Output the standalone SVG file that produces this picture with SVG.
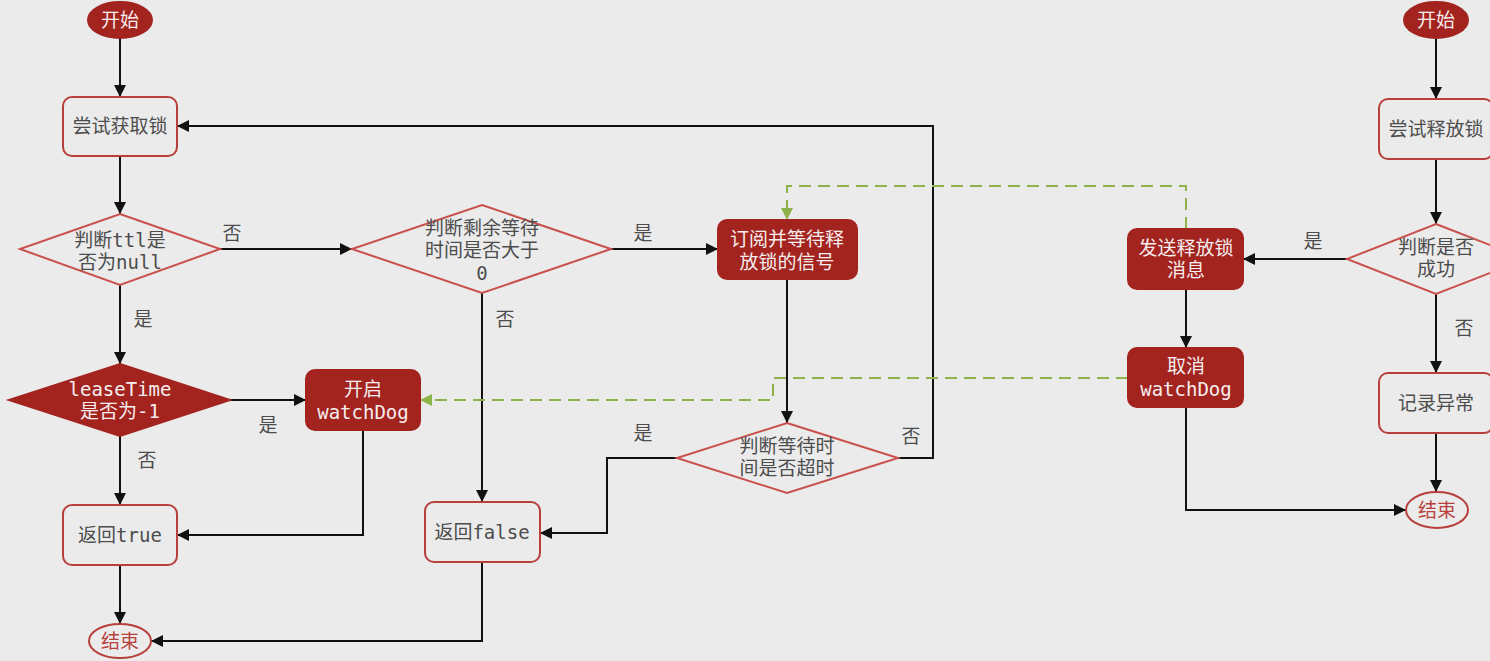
<svg xmlns="http://www.w3.org/2000/svg" width="1490" height="661" viewBox="0 0 1490 661">
<defs>
<style>
.bg{fill:#ebebeb}
.box{fill:#ebebeb;stroke:#b8403c;stroke-width:2}
.fill{fill:#a3231f;stroke:#a3231f;stroke-width:2}
.dia{fill:#ebebeb;stroke:#c9504c;stroke-width:2}
.t{font-family:"DejaVu Sans Mono","Noto Sans CJK SC",monospace;font-size:19px;fill:#4d4d4d;text-anchor:middle}
.w{fill:#f5eeee}
.r{fill:#b8403c}
.e{fill:none;stroke:#111;stroke-width:2}
.g{fill:none;stroke:#8db24a;stroke-width:2;stroke-dasharray:12 7}
</style>
<marker id="a" markerUnits="userSpaceOnUse" markerWidth="12" markerHeight="12" refX="12" refY="6" orient="auto"><path d="M0,0 L12,6 L0,12 z" fill="#111"/></marker>
<marker id="ag" markerUnits="userSpaceOnUse" markerWidth="12" markerHeight="12" refX="12" refY="6" orient="auto"><path d="M0,0 L12,6 L0,12 z" fill="#8db24a"/></marker>
</defs>
<rect class="bg" x="0" y="0" width="1490" height="661"/>

<g id="connectors">
<path class="e" marker-end="url(#a)" d="M120,38 V97"/>
<path class="e" marker-end="url(#a)" d="M120,156 V214"/>
<path class="e" marker-end="url(#a)" d="M220,249 H352"/>
<path class="e" marker-end="url(#a)" d="M611,249 H718"/>
<path class="e" marker-end="url(#a)" d="M787,279 V423"/>
<path class="e" marker-end="url(#a)" d="M898,458 H933 V126 H177"/>
<path class="e" marker-end="url(#a)" d="M677,458 H607 V533 H540"/>
<path class="e" marker-end="url(#a)" d="M482,293 V502"/>
<path class="e" marker-end="url(#a)" d="M482,562 V641 H151"/>
<path class="e" marker-end="url(#a)" d="M120,285 V364"/>
<path class="e" marker-end="url(#a)" d="M230,400 H306"/>
<path class="e" marker-end="url(#a)" d="M363,430 V535 H177"/>
<path class="e" marker-end="url(#a)" d="M120,436 V505"/>
<path class="e" marker-end="url(#a)" d="M120,565 V624"/>
<path class="e" marker-end="url(#a)" d="M1436,38 V99"/>
<path class="e" marker-end="url(#a)" d="M1436,159 V224"/>
<path class="e" marker-end="url(#a)" d="M1347,259 H1243"/>
<path class="e" marker-end="url(#a)" d="M1186,289 V348"/>
<path class="e" marker-end="url(#a)" d="M1186,407 V510 H1406"/>
<path class="e" marker-end="url(#a)" d="M1436,294 V373"/>
<path class="e" marker-end="url(#a)" d="M1436,433 V492"/>
<path class="g" marker-end="url(#ag)" d="M1186,229 V186 H787 V220"/>
<path class="g" marker-end="url(#ag)" d="M1128,378 H773 V400 H420"/>
<text class="t" x="232" y="240">否</text>
<text class="t" x="643" y="240">是</text>
<text class="t" x="505" y="326">否</text>
<text class="t" x="143" y="326">是</text>
<text class="t" x="268" y="432">是</text>
<text class="t" x="147" y="467">否</text>
<text class="t" x="643" y="440">是</text>
<text class="t" x="911" y="443">否</text>
<text class="t" x="1313" y="248">是</text>
<text class="t" x="1464" y="335">否</text>
</g>

<g id="start1"><ellipse class="fill" cx="120" cy="20" rx="32" ry="18"/><text class="t w" x="120" y="27">开始</text></g>
<g id="tryLock"><rect class="box" x="63" y="97" width="114" height="59" rx="9"/><text class="t" x="120" y="133">尝试获取锁</text></g>
<g id="ttlNull"><polygon class="dia" points="120,214 220,249 120,285 20,249"/><text class="t" x="120" y="247">判断ttl是</text><text class="t" x="120" y="269">否为null</text></g>
<g id="leaseTime"><polygon class="fill" points="120,364 230,400 120,436 9,400"/><text class="t w" x="120" y="396">leaseTime</text><text class="t w" x="120" y="418">是否为-1</text></g>
<g id="startWD"><rect class="fill" x="306" y="370" width="114" height="60" rx="9"/><text class="t w" x="363" y="396">开启</text><text class="t w" x="363" y="419">watchDog</text></g>
<g id="retTrue"><rect class="box" x="63" y="505" width="114" height="60" rx="9"/><text class="t" x="120" y="542">返回true</text></g>
<g id="end1"><ellipse class="box" cx="120" cy="641" rx="31" ry="17"/><text class="t r" x="120" y="648">结束</text></g>
<g id="remain"><polygon class="dia" points="482,205 611,249 482,293 352,249"/><text class="t" x="482" y="235">判断剩余等待</text><text class="t" x="482" y="257">时间是否大于</text><text class="t" x="482" y="280">0</text></g>
<g id="subscribe"><rect class="fill" x="718" y="220" width="139" height="59" rx="9"/><text class="t w" x="787" y="246">订阅并等待释</text><text class="t w" x="787" y="269">放锁的信号</text></g>
<g id="timeout"><polygon class="dia" points="787,423 898,458 787,493 677,458"/><text class="t" x="787" y="453">判断等待时</text><text class="t" x="787" y="475">间是否超时</text></g>
<g id="retFalse"><rect class="box" x="425" y="502" width="115" height="60" rx="9"/><text class="t" x="482" y="539">返回false</text></g>

<g id="start2"><ellipse class="fill" cx="1436" cy="20" rx="32" ry="18"/><text class="t w" x="1436" y="27">开始</text></g>
<g id="tryUnlock"><rect class="box" x="1379" y="99" width="114" height="60" rx="9"/><text class="t" x="1436" y="136">尝试释放锁</text></g>
<g id="success"><polygon class="dia" points="1436,224 1526,259 1436,294 1347,259"/><text class="t" x="1436" y="254">判断是否</text><text class="t" x="1436" y="276">成功</text></g>
<g id="publish"><rect class="fill" x="1128" y="229" width="115" height="60" rx="9"/><text class="t w" x="1186" y="255">发送释放锁</text><text class="t w" x="1186" y="277">消息</text></g>
<g id="cancelWD"><rect class="fill" x="1128" y="348" width="115" height="59" rx="9"/><text class="t w" x="1186" y="373">取消</text><text class="t w" x="1186" y="396">watchDog</text></g>
<g id="logErr"><rect class="box" x="1379" y="373" width="114" height="60" rx="9"/><text class="t" x="1436" y="410">记录异常</text></g>
<g id="end2"><ellipse class="box" cx="1437" cy="510" rx="31" ry="18"/><text class="t r" x="1437" y="517">结束</text></g>
</svg>
